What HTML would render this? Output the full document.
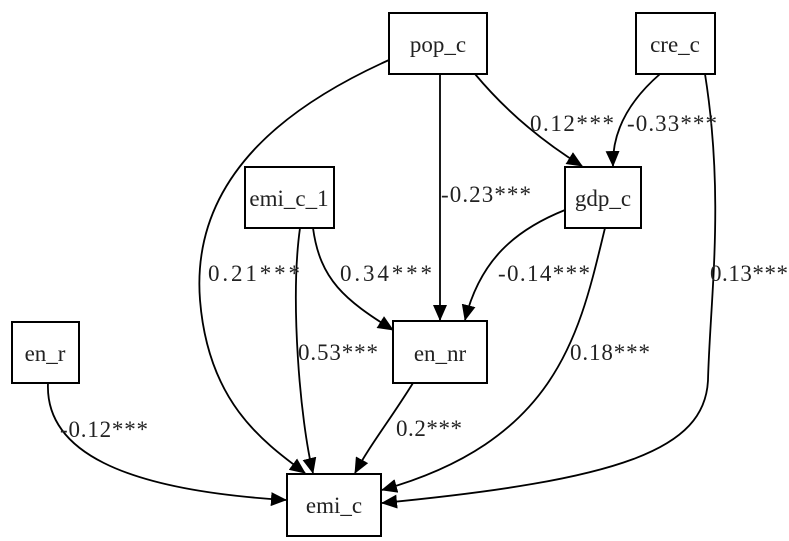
<!DOCTYPE html>
<html><head><style>body{margin:0;background:#fff}svg{display:block}text{font-family:"Liberation Serif",serif;fill:#222}</style></head>
<body>
<svg width="789" height="541" viewBox="0 0 789 541">
<defs><marker id="a" markerWidth="16" markerHeight="14" refX="15" refY="7" orient="auto" markerUnits="userSpaceOnUse" viewBox="0 0 16 14"><path d="M0,0 L16,7 L0,14 z" fill="#000"/></marker></defs>
<g fill="#fff" stroke="#000" stroke-width="2">
<rect x="389" y="13" width="98" height="61"/>
<rect x="636" y="13" width="79" height="61"/>
<rect x="245" y="167" width="89" height="61"/>
<rect x="565" y="167" width="76" height="61"/>
<rect x="12" y="322" width="67" height="61"/>
<rect x="393" y="321" width="94" height="62"/>
<rect x="287" y="474" width="94" height="62"/>
</g>
<g font-size="23" text-anchor="middle">
<text x="438" y="52">pop_c</text>
<text x="675" y="52">cre_c</text>
<text x="289" y="206">emi_c_1</text>
<text x="603" y="206">gdp_c</text>
<text x="45" y="361">en_r</text>
<text x="440" y="361">en_nr</text>
<text x="334" y="513">emi_c</text>
</g>
<g fill="none" stroke="#000" stroke-width="1.8" marker-end="url(#a)">
<path d="M440,74 L440,320"/>
<path d="M475,74 C505,110 540,140 582,166"/>
<path d="M660,74 C630,100 612,130 613,166"/>
<path d="M389,60 C300,100 190,170 200,300 C208,400 260,440 305,473"/>
<path d="M300,228 C290,300 300,420 313,473"/>
<path d="M313,228 C320,280 345,300 393,330"/>
<path d="M565,210 C515,230 480,260 465,320"/>
<path d="M413,383 C390,420 370,445 355,473"/>
<path d="M48,383 C45,450 120,490 286,500"/>
<path d="M605,228 C580,330 560,440 382,490"/>
<path d="M705,74 C725,200 710,300 708,380 C705,450 620,480 382,503"/>
</g>
<g font-size="23">
<text x="441" y="202" textLength="90">-0.23***</text>
<text x="530" y="131" textLength="84">0.12***</text>
<text x="627" y="131" textLength="90">-0.33***</text>
<text x="208" y="281" textLength="92">0.21***</text>
<text x="340" y="281" textLength="92">0.34***</text>
<text x="498" y="281" textLength="92">-0.14***</text>
<text x="710" y="281" textLength="78">0.13***</text>
<text x="298" y="360" textLength="80">0.53***</text>
<text x="570" y="360" textLength="80">0.18***</text>
<text x="60" y="437" textLength="88">-0.12***</text>
<text x="396" y="436" textLength="66">0.2***</text>
</g>
</svg>
</body></html>
